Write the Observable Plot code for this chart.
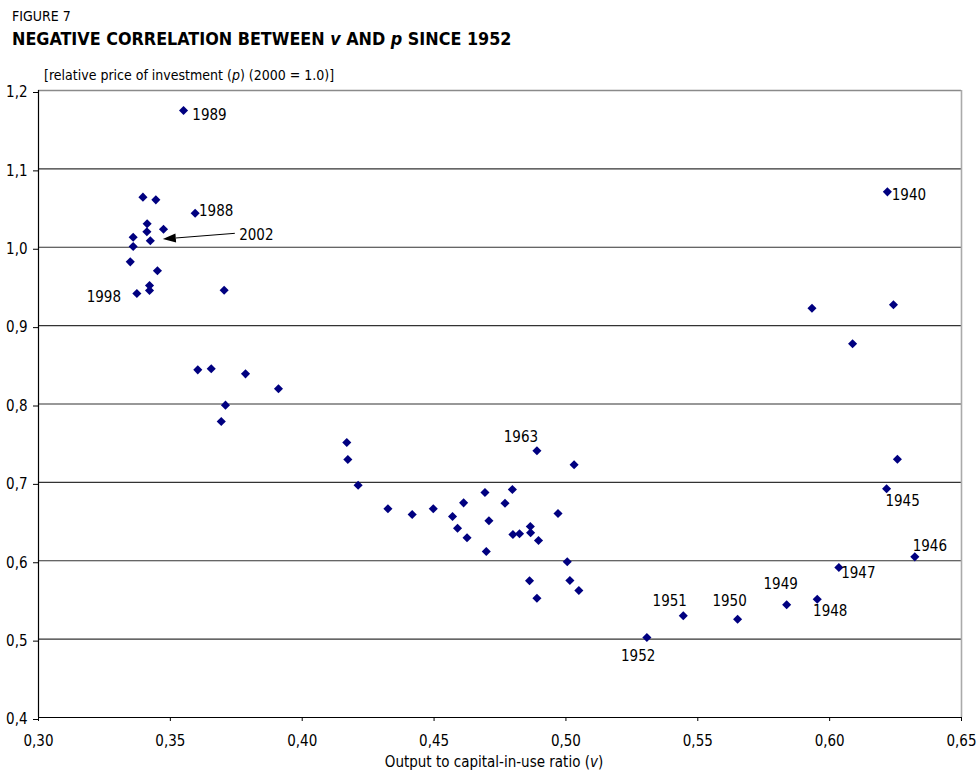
<!DOCTYPE html>
<html><head><meta charset="utf-8">
<script src="https://cdn.jsdelivr.net/npm/d3@7"></script>
<script src="https://cdn.jsdelivr.net/npm/@observablehq/plot@0.6"></script>
<style>
body{margin:0;background:#fff;font-family:"DejaVu Sans Condensed","DejaVu Sans",sans-serif;color:#000;}
#wrap{position:relative;width:979px;height:775px;overflow:hidden;}
.h{position:absolute;white-space:nowrap;line-height:1;z-index:2;}
#fig{left:12px;top:9px;font-size:14px;}
#title{left:12px;top:30px;font-size:17.8px;font-weight:bold;}
#sub{left:44px;top:68px;font-size:14px;}
#chart{position:absolute;left:0;top:79px;z-index:1;}
#xlab{left:494px;top:755px;font-size:15px;transform:translateX(-50%);}
</style></head>
<body>
<div id="wrap">
  <div class="h" id="fig">FIGURE 7</div>
  <div class="h" id="title">NEGATIVE CORRELATION BETWEEN <i>v</i> AND <i>p</i> SINCE 1952</div>
  <div class="h" id="sub">[relative price of investment (<i>p</i>) (2000 = 1.0)]</div>
  <div id="chart"></div>
  <div class="h" id="xlab">Output to capital-in-use ratio (<i>v</i>)</div>
</div>
<script>
// Output to capital-in-use ratio (v)
const v = [
  0.3550, 0.3396, 0.3445, 0.3594, 0.3412, 0.3474, 0.3411, 0.3359, 0.3424, 0.3359,
  0.3348, 0.3451, 0.3421, 0.3421, 0.3373, 0.3704, 0.3604, 0.3655, 0.3785, 0.3910,
  0.3709, 0.3693, 0.4169, 0.4173, 0.4212, 0.4325, 0.4417, 0.4497, 0.4570, 0.4612,
  0.4589, 0.4625, 0.4693, 0.4708, 0.4698, 0.4769, 0.4797, 0.4890, 0.4799, 0.4824,
  0.4865, 0.4866, 0.4896, 0.4862, 0.4890, 0.4970, 0.5031, 0.5005, 0.5015, 0.5049,
  0.6219, 0.5933, 0.6242, 0.6087, 0.6257, 0.6216, 0.6323, 0.6035, 0.5953, 0.5837,
  0.5651, 0.5445, 0.5307
];
// Relative price of investment (p), 2000 = 1.0
const p = [
  1.1745, 1.0639, 1.0605, 1.0434, 1.0299, 1.0230, 1.0197, 1.0128, 1.0082, 1.0010,
  0.9814, 0.9700, 0.9512, 0.9448, 0.9410, 0.9452, 0.8436, 0.8449, 0.8385, 0.8194,
  0.7985, 0.7777, 0.7509, 0.7292, 0.6964, 0.6663, 0.6590, 0.6663, 0.6565, 0.6739,
  0.6415, 0.6293, 0.6871, 0.6510, 0.6118, 0.6734, 0.6909, 0.7403, 0.6335, 0.6344,
  0.6437, 0.6357, 0.6258, 0.5744, 0.5522, 0.6603, 0.7224, 0.5987, 0.5748, 0.5620,
  1.0707, 0.9222, 0.9266, 0.8768, 0.7296, 0.6918, 0.6050, 0.5914, 0.5509, 0.5438,
  0.5254, 0.5298, 0.5021
];
// Year labels shown on the chart (null = unlabeled point)
const year = [
  "1989", null, null, "1988", null, null, null, null, "2002", null,
  null, null, null, null, "1998", null, null, null, null, null,
  null, null, null, null, null, null, null, null, null, null,
  null, null, null, null, null, null, null, "1963", null, null,
  null, null, null, null, null, null, null, null, null, null,
  "1940", null, null, null, null, "1945", "1946", "1947", "1948", "1949",
  "1950", "1951", "1952"
];
const xTicks = [0.30, 0.35, 0.40, 0.45, 0.50, 0.55, 0.60, 0.65];
const yTicks = [0.4, 0.5, 0.6, 0.7, 0.8, 0.9, 1.0, 1.1, 1.2];

const points = v.map((d, i) => ({v: d, p: p[i], year: year[i]}));
const labeled = points.filter(d => d.year);

// label placement relative to its point (pixels)
const place = {
  "1989": [26, 4.5], "1988": [21, -2], "2002": [106, -6], "1998": [-33, 4],
  "1963": [-16, -14], "1940": [21.5, 3.5], "1945": [16, 12.5], "1946": [15, -10.5],
  "1947": [19.5, 6], "1948": [13, 12], "1949": [-6, -21], "1950": [-8, -17.7],
  "1951": [-13.5, -14.3], "1952": [-8.7, 18.5]
};

const comma = (f) => (d) => d3.format(f)(d).replace(".", ",");
const font = "DejaVu Sans Condensed, DejaVu Sans, sans-serif";

const arrow2002 = (index, scales) => {
  const d = points.find(e => e.year === "2002");
  const x = scales.x(d.v), y = scales.y(d.p);
  const x1 = x + 85, y1 = y - 7, x2 = x + 13, y2 = y - 1.3;
  const ang = Math.atan2(y2 - y1, x2 - x1);
  const L = 13, W = 4.5;
  const bx = x2 - L * Math.cos(ang), by = y2 - L * Math.sin(ang);
  const nx = -Math.sin(ang) * W, ny = Math.cos(ang) * W;
  const g = d3.create("svg:g");
  g.append("line").attr("x1", x1).attr("y1", y1).attr("x2", bx).attr("y2", by)
    .attr("stroke", "#000").attr("stroke-width", 1);
  g.append("polygon")
    .attr("points", `${x2},${y2} ${bx + nx},${by + ny} ${bx - nx},${by - ny}`)
    .attr("fill", "#000");
  return g.node();
};

const chart = Plot.plot({
  width: 979,
  height: 671,
  marginTop: 11,
  marginBottom: 33,
  marginLeft: 38,
  marginRight: 18,
  style: {fontFamily: font, fontSize: "15px", color: "#000", background: "transparent", overflow: "visible"},
  x: {domain: [0.30, 0.65]},
  y: {domain: [0.4, 1.2]},
  marks: [
    Plot.ruleY(yTicks.filter(t => t > 0.45 && t < 1.15), {stroke: "#333", strokeWidth: 1.2}),
    Plot.ruleY([1.2], {stroke: "#8a8a8a", strokeWidth: 1.6}),
    Plot.ruleX([0.65], {stroke: "#aaa", strokeWidth: 1.6}),
    Plot.axisY({ticks: yTicks, tickSize: 5, tickPadding: 6, tickFormat: comma(".1f"), label: null, fontSize: 15, dy: 2}),
    Plot.axisX({ticks: xTicks, tickSize: 4, tickPadding: 14, tickFormat: comma(".2f"), label: null, fontSize: 15}),
    Plot.ruleX([0.30], {stroke: "#000", strokeWidth: 1.2}),
    Plot.ruleY([0.4], {stroke: "#000", strokeWidth: 1.2}),
    Plot.dot(points, {x: "v", y: "p", symbol: "diamond2", r: 4.1, fill: "#000080"}),
    ...labeled.map(d => Plot.text([d], {
      x: "v", y: "p", text: "year",
      dx: place[d.year][0], dy: place[d.year][1],
      fontSize: 15, fill: "#000"
    })),
    arrow2002
  ]
});
document.getElementById("chart").appendChild(chart);
</script>
</body></html>
